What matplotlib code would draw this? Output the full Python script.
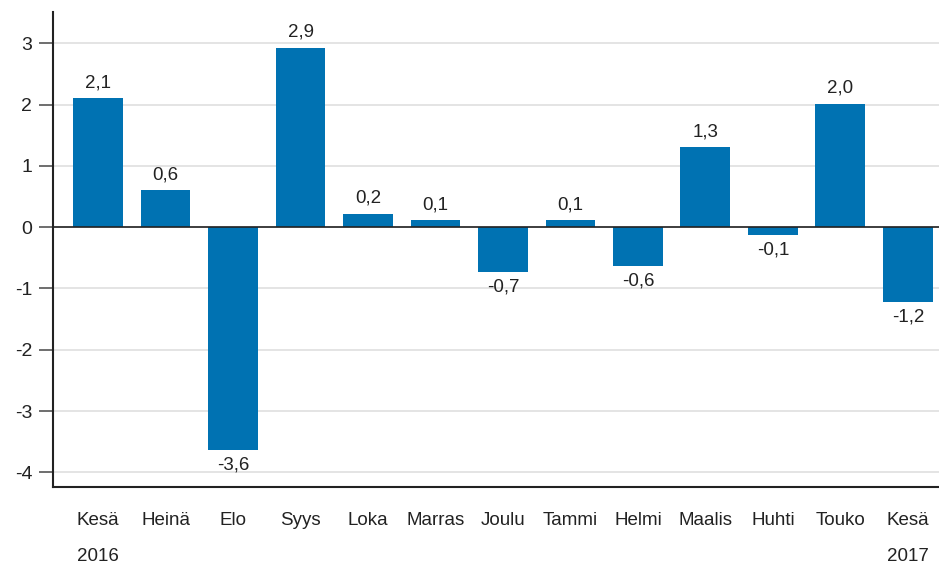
import matplotlib.pyplot as plt
from matplotlib import font_manager
import numpy as np

months = ['Kesä', 'Heinä', 'Elo', 'Syys', 'Loka', 'Marras', 'Joulu',
          'Tammi', 'Helmi', 'Maalis', 'Huhti', 'Touko', 'Kesä']
years = ['2016', '', '', '', '', '', '', '', '', '', '', '', '2017']
values = [2.10, 0.60, -3.64, 2.92, 0.21, 0.11, -0.73, 0.11, -0.64, 1.30, -0.13, 2.01, -1.22]
labels = ['2,1', '0,6', '-3,6', '2,9', '0,2', '0,1', '-0,7', '0,1', '-0,6', '1,3', '-0,1', '2,0', '-1,2']

names = {f.name for f in font_manager.fontManager.ttflist}
narrow = 'Liberation Sans Narrow' if 'Liberation Sans Narrow' in names else 'Liberation Sans'
xfs = 14 if narrow == 'Liberation Sans Narrow' else 13.5

fig = plt.figure(figsize=(9.39, 5.69), dpi=100)
ax = fig.add_axes([53/939, 1-487/569, 886/939, 475/569])

x = np.arange(len(values))
ax.bar(x, values, width=0.74, color='#0072b2', zorder=3)
ax.axhline(0, color='#222222', lw=1.2, zorder=4)

for xi, v, t in zip(x, values, labels):
    if v >= 0:
        ax.text(xi, v + 0.12, t, ha='center', va='bottom', fontsize=13.5,
                family='Liberation Sans', color='#222222')
    else:
        ax.text(xi, v - 0.1, t, ha='center', va='top', fontsize=13.5,
                family='Liberation Sans', color='#222222')

ax.set_xlim(-0.667, 12.46)
ax.set_ylim(-4.24, 3.51)
ax.set_yticks(range(-4, 4))
ax.set_yticklabels([str(i) for i in range(-4, 4)], fontsize=14, family='Liberation Sans',
                   color='#222222')
ax.yaxis.grid(True, color='#e2e2e2', lw=1.3, zorder=0)
ax.tick_params(axis='y', length=10, width=1.2, color='#555555', pad=5)

ax.set_xticks(x)
ax.set_xticklabels(months, fontsize=xfs, family=narrow, color='#222222')
ax.tick_params(axis='x', length=0, pad=18)
for xi, yr in zip(x, years):
    if yr:
        ax.text(xi, -0.147, yr, transform=ax.get_xaxis_transform(), ha='center',
                va='center', fontsize=xfs, family=narrow, color='#222222')

for s in ['top', 'right']:
    ax.spines[s].set_visible(False)
for s in ['left', 'bottom']:
    ax.spines[s].set_linewidth(1.5)
    ax.spines[s].set_color('#222222')

fig.savefig('out.png', dpi=100)
